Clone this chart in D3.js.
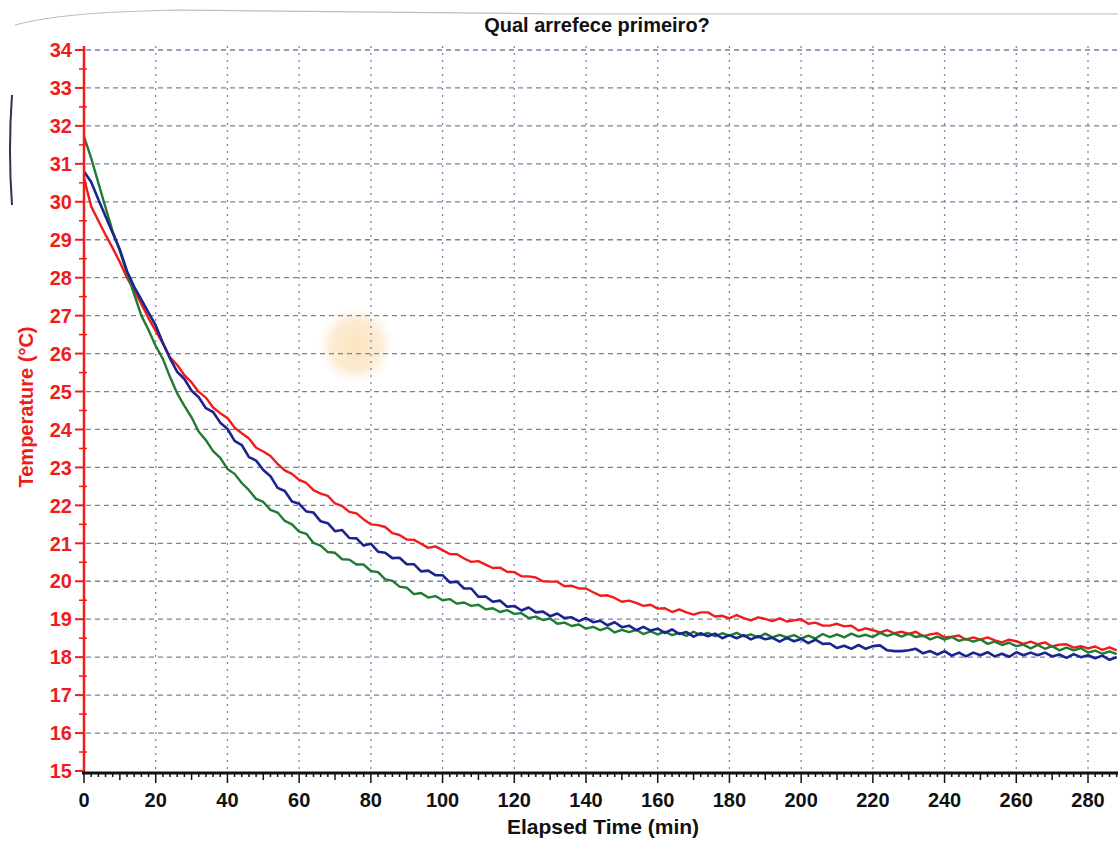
<!DOCTYPE html>
<html>
<head>
<meta charset="utf-8">
<title>Qual arrefece primeiro?</title>
<script src="https://d3js.org/d3.v7.min.js"></script>
<style>
  body { margin: 0; padding: 0; background: #fff; }
  svg { display: block; font-family: "Liberation Sans", Arial, sans-serif; }
</style>
</head>
<body>
<div id="chart"></div>
<script>
// sample times (min)
const minutes = [
  0, 2, 4, 6, 8, 10, 12, 14, 16, 18, 20, 22, 24, 26, 28, 30, 32, 34, 36, 38,
  40, 42, 44, 46, 48, 50, 52, 54, 56, 58, 60, 62, 64, 66, 68, 70, 72, 74, 76, 78,
  80, 82, 84, 86, 88, 90, 92, 94, 96, 98, 100, 102, 104, 106, 108, 110, 112, 114, 116, 118,
  120, 122, 124, 126, 128, 130, 132, 134, 136, 138, 140, 142, 144, 146, 148, 150, 152, 154, 156, 158,
  160, 162, 164, 166, 168, 170, 172, 174, 176, 178, 180, 182, 184, 186, 188, 190, 192, 194, 196, 198,
  200, 202, 204, 206, 208, 210, 212, 214, 216, 218, 220, 222, 224, 226, 228, 230, 232, 234, 236, 238,
  240, 242, 244, 246, 248, 250, 252, 254, 256, 258, 260, 262, 264, 266, 268, 270, 272, 274, 276, 278,
  280, 282, 284, 286, 288
];

// temperature readings (°C), one per sample time
const redTemp = [
  30.62, 29.88, 29.5, 29.13, 28.78, 28.41, 28.0, 27.66, 27.31, 26.93,
  26.6, 26.27, 25.9, 25.7, 25.43, 25.24, 24.99, 24.84, 24.58, 24.43,
  24.30, 24.05, 23.90, 23.76, 23.52, 23.42, 23.30, 23.09, 22.92, 22.83,
  22.67, 22.59, 22.40, 22.31, 22.25, 22.05, 21.98, 21.83, 21.79, 21.63,
  21.50, 21.48, 21.43, 21.27, 21.22, 21.10, 21.09, 20.99, 20.88, 20.92,
  20.82, 20.72, 20.71, 20.60, 20.51, 20.53, 20.44, 20.35, 20.36, 20.25,
  20.24, 20.13, 20.13, 20.10, 20.00, 19.99, 19.99, 19.87, 19.88, 19.81,
  19.81, 19.71, 19.62, 19.63, 19.56, 19.46, 19.49, 19.43, 19.35, 19.38,
  19.28, 19.29, 19.19, 19.26, 19.18, 19.12, 19.18, 19.18, 19.07, 19.09,
  19.02, 19.11, 19.03, 18.97, 19.05, 19.01, 18.95, 19.02, 18.94, 18.97,
  19.00, 18.88, 18.91, 18.83, 18.83, 18.88, 18.81, 18.83, 18.70, 18.76,
  18.71, 18.65, 18.71, 18.63, 18.67, 18.61, 18.67, 18.55, 18.60, 18.63,
  18.52, 18.54, 18.57, 18.46, 18.52, 18.46, 18.52, 18.44, 18.39, 18.46,
  18.42, 18.35, 18.41, 18.34, 18.39, 18.28, 18.33, 18.34, 18.25, 18.29,
  18.23, 18.28, 18.19, 18.26, 18.18
];

const blueTemp = [
  30.8, 30.52, 30.06, 29.62, 29.18, 28.74, 28.17, 27.76, 27.42, 27.08,
  26.74, 26.28, 25.87, 25.52, 25.33, 25.02, 24.85, 24.56, 24.46, 24.18,
  24.02, 23.70, 23.59, 23.27, 23.18, 22.93, 22.77, 22.46, 22.38, 22.10,
  22.04, 21.84, 21.81, 21.58, 21.53, 21.32, 21.35, 21.14, 21.13, 20.94,
  20.99, 20.78, 20.75, 20.61, 20.62, 20.45, 20.45, 20.26, 20.28, 20.16,
  20.16, 19.97, 19.99, 19.81, 19.81, 19.59, 19.60, 19.46, 19.49, 19.33,
  19.35, 19.23, 19.31, 19.18, 19.20, 19.08, 19.15, 19.03, 19.05, 18.95,
  19.03, 18.92, 18.96, 18.84, 18.92, 18.79, 18.83, 18.71, 18.80, 18.70,
  18.75, 18.64, 18.73, 18.61, 18.66, 18.54, 18.63, 18.55, 18.62, 18.50,
  18.58, 18.50, 18.58, 18.47, 18.55, 18.47, 18.51, 18.41, 18.51, 18.42,
  18.48, 18.37, 18.46, 18.35, 18.36, 18.24, 18.30, 18.22, 18.32, 18.22,
  18.29, 18.31, 18.18, 18.16, 18.16, 18.18, 18.22, 18.10, 18.16, 18.07,
  18.16, 18.04, 18.12, 18.02, 18.12, 18.05, 18.13, 18.02, 18.09, 18.01,
  18.13, 18.05, 18.12, 18.05, 18.12, 18.02, 18.07, 17.98, 18.08, 18.00,
  18.05, 17.97, 18.04, 17.93, 18.00
];

const greenTemp = [
  31.72, 31.15, 30.5, 29.85, 29.22, 28.7, 28.12, 27.56, 27.0, 26.62,
  26.2, 25.86, 25.38, 24.95, 24.62, 24.32, 23.94, 23.72, 23.43, 23.25,
  22.96, 22.83, 22.59, 22.40, 22.17, 22.09, 21.88, 21.81, 21.59, 21.50,
  21.31, 21.25, 21.01, 20.94, 20.77, 20.75, 20.58, 20.57, 20.44, 20.44,
  20.27, 20.24, 20.05, 20.01, 19.86, 19.83, 19.66, 19.69, 19.57, 19.61,
  19.50, 19.53, 19.41, 19.44, 19.35, 19.38, 19.26, 19.29, 19.19, 19.24,
  19.14, 19.16, 19.03, 19.07, 18.98, 19.02, 18.88, 18.91, 18.82, 18.86,
  18.75, 18.80, 18.71, 18.78, 18.65, 18.72, 18.66, 18.72, 18.61, 18.68,
  18.60, 18.67, 18.58, 18.64, 18.56, 18.67, 18.58, 18.64, 18.55, 18.63,
  18.57, 18.64, 18.55, 18.60, 18.52, 18.62, 18.52, 18.59, 18.52, 18.58,
  18.49, 18.57, 18.49, 18.61, 18.53, 18.60, 18.52, 18.62, 18.54, 18.59,
  18.53, 18.64, 18.56, 18.62, 18.54, 18.62, 18.53, 18.57, 18.47, 18.54,
  18.46, 18.53, 18.43, 18.48, 18.41, 18.47, 18.35, 18.41, 18.32, 18.38,
  18.29, 18.33, 18.23, 18.32, 18.22, 18.29, 18.18, 18.25, 18.18, 18.24,
  18.12, 18.17, 18.09, 18.15, 18.08
];

const xTicks = [0, 20, 40, 60, 80, 100, 120, 140, 160, 180, 200, 220, 240, 260, 280];
const yTicks = [15, 16, 17, 18, 19, 20, 21, 22, 23, 24, 25, 26, 27, 28, 29, 30, 31, 32, 33, 34];

const width = 1118, height = 845;
const margin = { top: 50, right: 0, bottom: 74, left: 84 };

const svg = d3.select("#chart").append("svg")
  .attr("width", width)
  .attr("height", height);

// x: 0 -> 84px, 280 -> 1088px (the plot runs off the right edge)
const x = d3.scaleLinear().domain([0, 280]).range([margin.left, 1088]);
const y = d3.scaleLinear().domain([15, 34]).range([771, margin.top]);

// scan stain
const defs = svg.append("defs");
const grad = defs.append("radialGradient").attr("id", "stain");
grad.append("stop").attr("offset", "0%").attr("stop-color", "#f8d49c").attr("stop-opacity", 0.65);
grad.append("stop").attr("offset", "65%").attr("stop-color", "#f9d9a8").attr("stop-opacity", 0.5);
grad.append("stop").attr("offset", "100%").attr("stop-color", "#fbe6c6").attr("stop-opacity", 0);
svg.append("ellipse")
  .attr("cx", 356).attr("cy", 345).attr("rx", 38).attr("ry", 39)
  .attr("fill", "url(#stain)");

// paper edges from the scan
svg.append("path")
  .attr("d", "M15,25 Q60,12 180,10 L560,14 Q800,14 1118,14")
  .attr("fill", "none").attr("stroke", "#b8bcc8").attr("stroke-width", 1.2);
svg.append("path")
  .attr("d", "M12,95 Q8,150 12,205")
  .attr("fill", "none").attr("stroke", "#2a3550").attr("stroke-width", 2);

// grid
const grid = svg.append("g");
grid.selectAll("line.h")
  .data(yTicks.filter(d => d > 15))
  .join("line")
    .attr("x1", margin.left + 2).attr("x2", width)
    .attr("y1", d => y(d)).attr("y2", d => y(d))
    .attr("stroke", "#7c80a8")
    .attr("stroke-width", 1.3)
    .attr("stroke-dasharray", "5,4");
grid.selectAll("line.v")
  .data(xTicks.filter(d => d > 0))
  .join("line")
    .attr("x1", d => x(d)).attr("x2", d => x(d))
    .attr("y1", y(34) - 4).attr("y2", y(15))
    .attr("stroke", "#7c86a8")
    .attr("stroke-width", 1.3)
    .attr("stroke-dasharray", "2,5");

// curves
const line = d3.line()
  .x(d => x(d[0]))
  .y(d => y(d[1]));

const series = [
  { values: redTemp, color: "#f01c1c", w: 2.4 },
  { values: greenTemp, color: "#1f7a32", w: 2.4 },
  { values: blueTemp, color: "#1a2590", w: 2.6 }
];

svg.append("g").selectAll("path")
  .data(series)
  .join("path")
    .attr("d", s => line(minutes.map((m, i) => [m, s.values[i]])))
    .attr("fill", "none")
    .attr("stroke", s => s.color)
    .attr("stroke-width", s => s.w)
    .attr("stroke-linejoin", "round");

// y axis (red)
const yAxis = svg.append("g").attr("transform", `translate(${margin.left},0)`);
yAxis.append("line")
  .attr("x1", 0).attr("x2", 0)
  .attr("y1", y(34) - 4).attr("y2", y(15) + 2)
  .attr("stroke", "#f01c1c").attr("stroke-width", 2.5);
yAxis.selectAll("line.major")
  .data(yTicks)
  .join("line")
    .attr("x1", -9).attr("x2", 1)
    .attr("y1", d => y(d)).attr("y2", d => y(d))
    .attr("stroke", "#f01c1c").attr("stroke-width", 2);
yAxis.selectAll("line.minor")
  .data(yTicks.slice(0, -1))
  .join("line")
    .attr("x1", -5).attr("x2", 3)
    .attr("y1", d => y(d + 0.5)).attr("y2", d => y(d + 0.5))
    .attr("stroke", "#f01c1c").attr("stroke-width", 1.5);
yAxis.selectAll("text")
  .data(yTicks)
  .join("text")
    .attr("x", -12)
    .attr("y", d => y(d))
    .attr("dy", "0.36em")
    .attr("text-anchor", "end")
    .attr("fill", "#f01c1c")
    .attr("font-size", 20)
    .attr("font-weight", "bold")
    .text(d => d);

// x axis (black)
const xAxis = svg.append("g").attr("transform", `translate(0,${y(15) + 2})`);
xAxis.append("line")
  .attr("x1", margin.left - 2).attr("x2", width)
  .attr("stroke", "#111").attr("stroke-width", 3);
const minorX = d3.range(0, 290, 2);
xAxis.selectAll("line.tick")
  .data(minorX)
  .join("line")
    .attr("x1", d => x(d)).attr("x2", d => x(d))
    .attr("y1", 0)
    .attr("y2", d => d % 20 === 0 ? 10 : d % 10 === 0 ? 7 : 4)
    .attr("stroke", "#111").attr("stroke-width", 1.5);
xAxis.selectAll("text")
  .data(xTicks)
  .join("text")
    .attr("x", d => x(d))
    .attr("y", 34)
    .attr("text-anchor", "middle")
    .attr("fill", "#111")
    .attr("font-size", 20)
    .attr("font-weight", "bold")
    .text(d => d);

// titles
svg.append("text")
  .attr("x", 597).attr("y", 32)
  .attr("text-anchor", "middle")
  .attr("font-size", 20)
  .attr("font-weight", "bold")
  .attr("fill", "#111")
  .text("Qual arrefece primeiro?");

svg.append("text")
  .attr("x", 603).attr("y", 834)
  .attr("text-anchor", "middle")
  .attr("font-size", 21)
  .attr("font-weight", "bold")
  .attr("fill", "#111")
  .text("Elapsed Time (min)");

svg.append("text")
  .attr("transform", "translate(33,407) rotate(-90)")
  .attr("text-anchor", "middle")
  .attr("font-size", 20)
  .attr("font-weight", "bold")
  .attr("fill", "#f01c1c")
  .text("Temperature (°C)");
</script>
</body>
</html>
